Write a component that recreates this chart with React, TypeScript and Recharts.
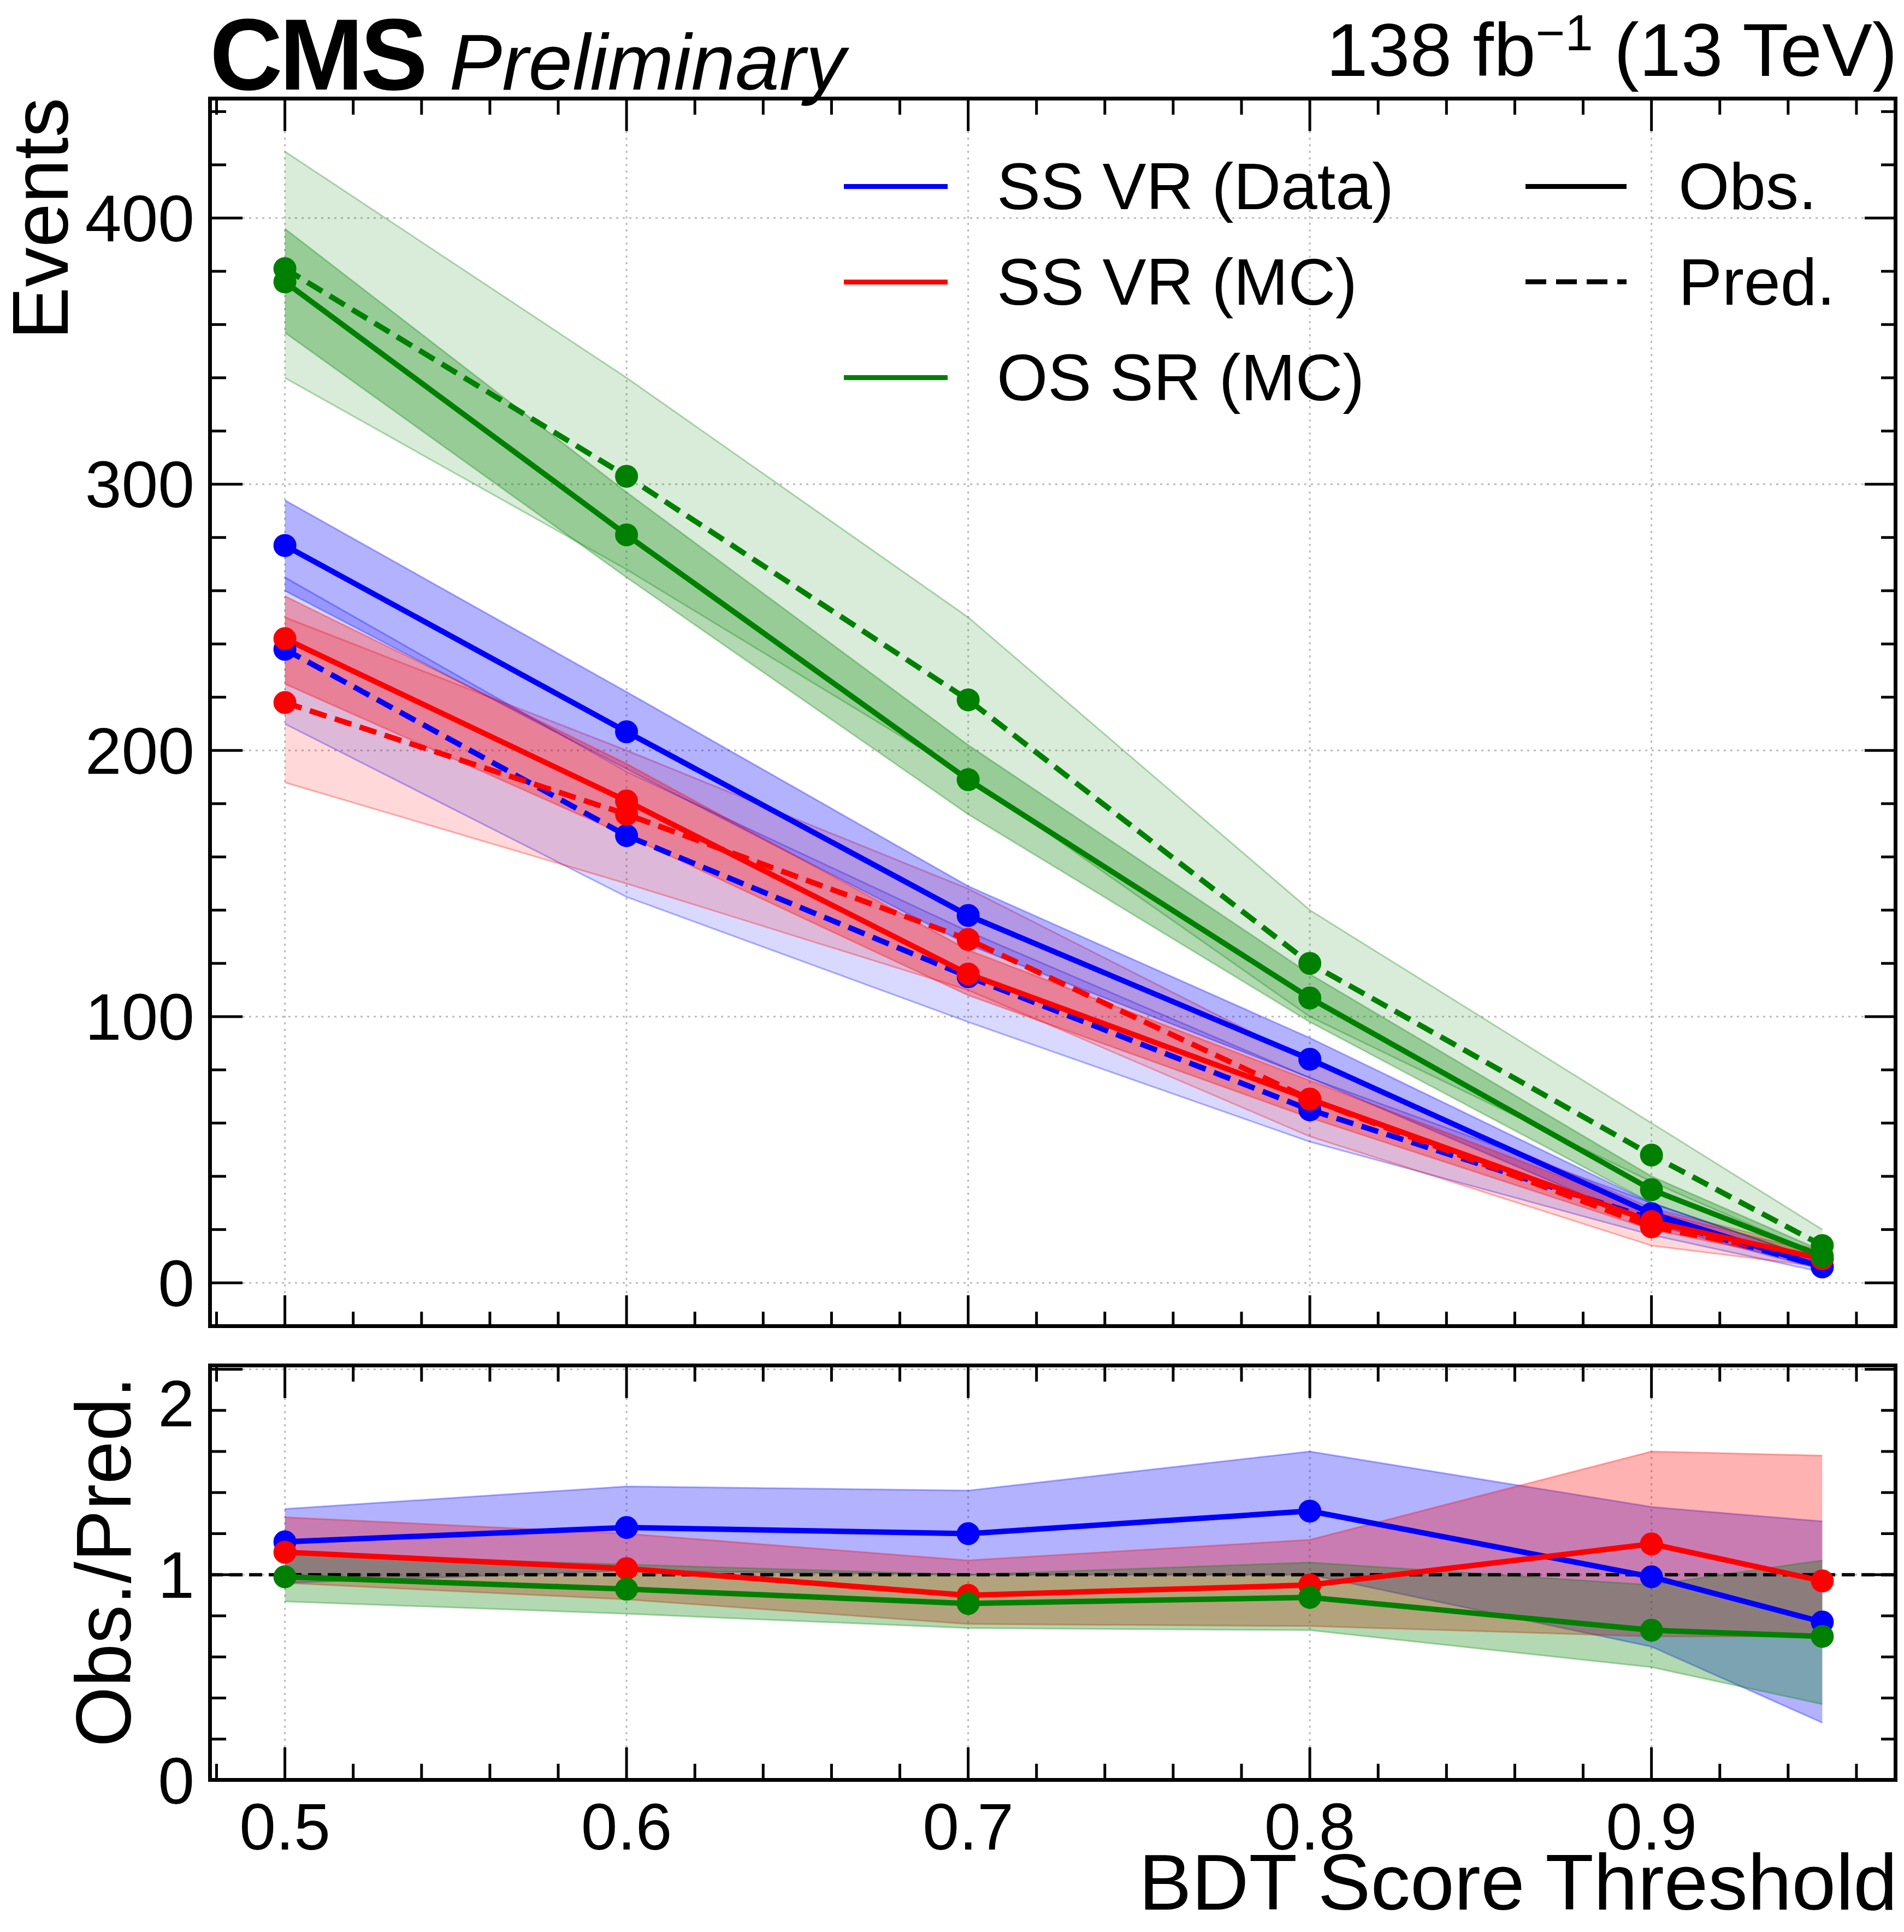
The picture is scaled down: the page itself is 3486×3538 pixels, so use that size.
import { ComposedChart, Line, Area, XAxis, YAxis, CartesianGrid, ReferenceLine } from "recharts";

const thresholds = [0.5, 0.6, 0.7, 0.8, 0.9, 0.95];

const dataObs = [277, 207, 138, 84, 26, 6];
const dataObsLo = [260, 193, 127, 77, 22, 5];
const dataObsHi = [294, 222, 149, 92, 30, 8];
const dataPred = [238, 168, 115, 65, 24, 6];
const dataPredLo = [210, 145, 98, 53, 18, 4];
const dataPredHi = [265, 192, 132, 77, 30, 8];

const mcObs = [242, 181, 116, 69, 23, 9];
const mcObsLo = [225, 168, 108, 62, 20, 7];
const mcObsHi = [258, 195, 125, 76, 27, 11];
const mcPred = [218, 176, 129, 69, 21, 9];
const mcPredLo = [188, 150, 110, 55, 14, 6];
const mcPredHi = [250, 200, 148, 83, 28, 12];

const osObs = [376, 281, 189, 107, 35, 10];
const osObsLo = [357, 265, 176, 98, 30, 8];
const osObsHi = [396, 297, 202, 116, 40, 12];
const osPred = [381, 303, 219, 120, 48, 14];
const osPredLo = [340, 268, 190, 100, 38, 10];
const osPredHi = [425, 340, 250, 140, 60, 20];

const ratioData = [1.16, 1.23, 1.2, 1.31, 0.99, 0.77];
const ratioDataLo = [0.96, 1.02, 1.0, 1.0, 0.65, 0.28];
const ratioDataHi = [1.32, 1.43, 1.41, 1.6, 1.33, 1.26];
const ratioMc = [1.11, 1.03, 0.9, 0.95, 1.15, 0.97];
const ratioMcLo = [0.96, 0.88, 0.76, 0.75, 0.7, 0.7];
const ratioMcHi = [1.28, 1.2, 1.07, 1.17, 1.6, 1.58];
const ratioOs = [0.99, 0.93, 0.86, 0.89, 0.73, 0.7];
const ratioOsLo = [0.87, 0.81, 0.74, 0.73, 0.55, 0.37];
const ratioOsHi = [1.1, 1.05, 1.0, 1.06, 0.95, 1.07];

const xTicks = [0.5, 0.6, 0.7, 0.8, 0.9];
const yTicks = [0, 100, 200, 300, 400];
const rTicks = [0, 1, 2];

const BLUE = "#0000ff";
const RED = "#ff0000";
const GREEN = "#008000";
const FONT = "'Liberation Sans', Arial, sans-serif";

const mainRows = thresholds.map((x, i) => ({
  x,
  dObs: dataObs[i], dObsB: [dataObsLo[i], dataObsHi[i]],
  dPred: dataPred[i], dPredB: [dataPredLo[i], dataPredHi[i]],
  mObs: mcObs[i], mObsB: [mcObsLo[i], mcObsHi[i]],
  mPred: mcPred[i], mPredB: [mcPredLo[i], mcPredHi[i]],
  oObs: osObs[i], oObsB: [osObsLo[i], osObsHi[i]],
  oPred: osPred[i], oPredB: [osPredLo[i], osPredHi[i]],
}));

const ratioRows = thresholds.map((x, i) => ({
  x,
  d: ratioData[i], dB: [ratioDataLo[i], ratioDataHi[i]],
  m: ratioMc[i], mB: [ratioMcLo[i], ratioMcHi[i]],
  o: ratioOs[i], oB: [ratioOsLo[i], ratioOsHi[i]],
}));

const X0 = 0.478, X1 = 0.972;
const Y0 = -17, Y1 = 445;
const R0 = 0, R1 = 2.02;

const range = (a: number, b: number, s: number) => {
  const out: number[] = [];
  for (let v = a; v <= b + 1e-9; v += s) out.push(Math.round(v * 1000) / 1000);
  return out;
};

function tickSegs(xs: number[], ys: number[], yMaj: (v: number) => boolean, xLen: number, yLen: number, ylo: number, yhi: number) {
  const segs: any[] = [];
  xs.forEach((v, i) => {
    const L = Math.abs((v * 10) - Math.round(v * 10)) < 1e-6 ? yLen : yLen / 2;
    segs.push(<ReferenceLine key={`xb${i}`} segment={[{ x: v, y: ylo }, { x: v, y: ylo + L }]} stroke="#000" strokeWidth={5} ifOverflow="visible" />);
    segs.push(<ReferenceLine key={`xt${i}`} segment={[{ x: v, y: yhi }, { x: v, y: yhi - L }]} stroke="#000" strokeWidth={5} ifOverflow="visible" />);
  });
  ys.forEach((v, i) => {
    const L = yMaj(v) ? xLen : xLen / 2;
    segs.push(<ReferenceLine key={`yl${i}`} segment={[{ x: X0, y: v }, { x: X0 + L, y: v }]} stroke="#000" strokeWidth={5} ifOverflow="visible" />);
    segs.push(<ReferenceLine key={`yr${i}`} segment={[{ x: X1, y: v }, { x: X1 - L, y: v }]} stroke="#000" strokeWidth={5} ifOverflow="visible" />);
  });
  return segs;
}

const band = (key: string, color: string, op: number) => (
  <Area key={key} dataKey={key} type="linear" fill={color} fillOpacity={op} stroke={color} strokeOpacity={0.3} strokeWidth={3} isAnimationActive={false} />
);
const line = (key: string, color: string, dashed: boolean) => (
  <Line key={key} dataKey={key} type="linear" stroke={color} strokeWidth={10} strokeDasharray={dashed ? "32 16" : undefined}
    dot={{ r: 16, fill: color, stroke: color, strokeDasharray: "0" }} isAnimationActive={false} />
);

const tickStyle = { fontSize: 120, fill: "#000", fontFamily: FONT };

export default function App() {
  return (
    <div style={{ position: "absolute", left: 0, top: 0, width: 3486, height: 3538, background: "#fff", fontFamily: FONT }}>
      <div style={{ position: "absolute", left: 0, top: 0 }}>
        <ComposedChart width={3486} height={2432} data={mainRows} margin={{ top: 180, right: 12, bottom: 0, left: 0 }}>
          <CartesianGrid stroke="#bbb" strokeWidth={3} strokeDasharray="4 8" verticalValues={xTicks} horizontalValues={yTicks} />
          <XAxis dataKey="x" type="number" domain={[X0, X1]} ticks={xTicks} hide />
          <YAxis type="number" domain={[Y0, Y1]} ticks={yTicks} width={384} tick={tickStyle} tickLine={false} axisLine={false} tickMargin={22} />
          {band("dPredB", BLUE, 0.15)}
          {band("mPredB", RED, 0.15)}
          {band("oPredB", GREEN, 0.15)}
          {band("dObsB", BLUE, 0.3)}
          {band("mObsB", RED, 0.3)}
          {band("oObsB", GREEN, 0.3)}
          {line("dPred", BLUE, true)}
          {line("mPred", RED, true)}
          {line("oPred", GREEN, true)}
          {line("dObs", BLUE, false)}
          {line("mObs", RED, false)}
          {line("oObs", GREEN, false)}
          {tickSegs(range(0.48, 0.96, 0.02), range(0, 440, 20), (v) => v % 100 === 0, 0.0096, 12.3, Y0, Y1)}
        </ComposedChart>
      </div>
      <div style={{ position: "absolute", left: 0, top: 2500 }}>
        <ComposedChart width={3486} height={930} data={ratioRows} margin={{ top: 0, right: 12, bottom: 0, left: 0 }}>
          <CartesianGrid stroke="#bbb" strokeWidth={3} strokeDasharray="4 8" verticalValues={xTicks} horizontalValues={rTicks} />
          <XAxis dataKey="x" type="number" domain={[X0, X1]} ticks={xTicks} height={170} tick={tickStyle} tickLine={false} axisLine={false} tickMargin={36} tickFormatter={(v) => v.toFixed(1)} />
          <YAxis type="number" domain={[R0, R1]} allowDataOverflow ticks={rTicks} width={384} tick={tickStyle} tickLine={false} axisLine={false} tickMargin={22} />
          {band("dB", BLUE, 0.3)}
          {band("mB", RED, 0.3)}
          {band("oB", GREEN, 0.3)}
          <ReferenceLine y={1} stroke="#000" strokeWidth={6} strokeDasharray="24 12" />
          {line("d", BLUE, false)}
          {line("m", RED, false)}
          {line("o", GREEN, false)}
          {tickSegs(range(0.48, 0.96, 0.02), range(0, 2, 0.2), (v) => Math.abs(v - Math.round(v)) < 1e-6, 0.0096, 0.16, R0, R1)}
        </ComposedChart>
      </div>
      {/* frames */}
      <div style={{ position: "absolute", left: 381, top: 177, width: 3093, height: 2255, border: "7px solid #000", boxSizing: "border-box" }} />
      <div style={{ position: "absolute", left: 381, top: 2497, width: 3093, height: 766, border: "7px solid #000", boxSizing: "border-box" }} />
      {/* header */}
      <div style={{ position: "absolute", left: 384, top: 8, fontSize: 185, fontWeight: "bold", lineHeight: 1, letterSpacing: -6, whiteSpace: "nowrap" }}>
        CMS <span style={{ fontSize: 145, fontWeight: "normal", fontStyle: "italic", letterSpacing: 0 }}>Preliminary</span>
      </div>
      <div style={{ position: "absolute", right: 12, top: 14, fontSize: 138, lineHeight: 1, whiteSpace: "nowrap" }}>
        138 fb<sup style={{ fontSize: 92 }}>−1</sup> (13 TeV)
      </div>
      {/* axis titles */}
      <div style={{ position: "absolute", left: 0, top: 180, width: 150, height: 440, display: "flex", alignItems: "center", justifyContent: "center" }}>
        <div style={{ transform: "rotate(-90deg)", fontSize: 145, whiteSpace: "nowrap", lineHeight: 1 }}>Events</div>
      </div>
      <div style={{ position: "absolute", left: 115, top: 2500, width: 150, height: 720, display: "flex", alignItems: "center", justifyContent: "center" }}>
        <div style={{ transform: "rotate(-90deg)", fontSize: 142, whiteSpace: "nowrap", lineHeight: 1 }}>Obs./Pred.</div>
      </div>
      <div style={{ position: "absolute", right: 12, top: 3375, fontSize: 145, lineHeight: 1, whiteSpace: "nowrap" }}>BDT Score Threshold</div>
      {/* legend */}
      {[["SS VR (Data)", BLUE], ["SS VR (MC)", RED], ["OS SR (MC)", GREEN]].map(([t, c], i) => (
        <div key={t} style={{ position: "absolute", left: 1545, top: 272 + i * 175, display: "flex", alignItems: "center", fontSize: 120, whiteSpace: "nowrap" }}>
          <div style={{ width: 190, height: 9, background: c, marginRight: 90 }} />
          <span>{t}</span>
        </div>
      ))}
      {[["Obs.", false], ["Pred.", true]].map(([t, d], i) => (
        <div key={String(t)} style={{ position: "absolute", left: 2793, top: 272 + i * 175, display: "flex", alignItems: "center", fontSize: 120, whiteSpace: "nowrap" }}>
          {d ? (
            <svg width={185} height={10} style={{ marginRight: 95 }}>
              <line x1={0} y1={5} x2={185} y2={5} stroke="#000" strokeWidth={9} strokeDasharray="38 18" />
            </svg>
          ) : (
            <div style={{ width: 185, height: 9, background: "#000", marginRight: 95 }} />
          )}
          <span>{t as string}</span>
        </div>
      ))}
    </div>
  );
}
